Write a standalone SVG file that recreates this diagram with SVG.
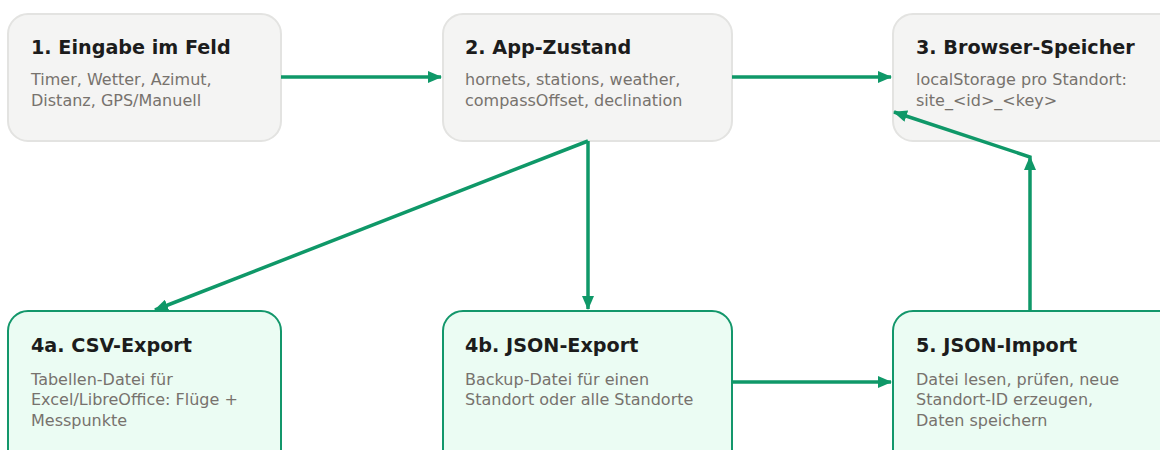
<svg xmlns="http://www.w3.org/2000/svg" width="1160" height="450" viewBox="0 0 1160 450">
<style>
.box{fill:#f4f4f3;stroke:#e3e3e1;stroke-width:2}
.out{fill:#ebfcf3;stroke:#13976b;stroke-width:2}
.t{font-family:"DejaVu Sans",sans-serif;font-weight:bold;font-size:19.2px;fill:#1c1c1c}
.b{font-family:"DejaVu Sans",sans-serif;font-size:16px;fill:#77726d}
.c{fill:none;stroke:#0f9868;stroke-width:3.5}
</style>
<defs>
<marker id="ah" markerUnits="userSpaceOnUse" markerWidth="14" markerHeight="12" refX="13" refY="6" orient="auto">
<path d="M0,0 L14,6 L0,12 z" fill="#0f9868"/>
</marker>
<marker id="ahUp" markerUnits="userSpaceOnUse" markerWidth="14" markerHeight="12" refX="13" refY="6" orient="-90">
<path d="M0,0 L14,6 L0,12 z" fill="#0f9868"/>
</marker>
</defs>
<g id="n1">
<rect class="box" x="8" y="14" width="273" height="127" rx="20"/>
<text class="t" x="31" y="54">1. Eingabe im Feld</text>
<text class="b" x="31" y="85">Timer, Wetter, Azimut,</text>
<text class="b" x="31" y="106">Distanz, GPS/Manuell</text>
</g>
<g id="n2">
<rect class="box" x="443" y="14" width="289" height="127" rx="20"/>
<text class="t" x="465" y="54">2. App-Zustand</text>
<text class="b" x="465" y="85">hornets, stations, weather,</text>
<text class="b" x="465" y="106">compassOffset, declination</text>
</g>
<g id="n3">
<rect class="box" x="893" y="14" width="290" height="127" rx="20"/>
<text class="t" x="916" y="54">3. Browser-Speicher</text>
<text class="b" x="916" y="85">localStorage pro Standort:</text>
<text class="b" x="916" y="106">site_&lt;id&gt;_&lt;key&gt;</text>
</g>
<g id="n4a">
<rect class="out" x="8" y="311" width="273" height="160" rx="20"/>
<text class="t" x="31" y="352">4a. CSV-Export</text>
<text class="b" x="31" y="385">Tabellen-Datei für</text>
<text class="b" x="31" y="405">Excel/LibreOffice: Flüge +</text>
<text class="b" x="31" y="426">Messpunkte</text>
</g>
<g id="n4b">
<rect class="out" x="443" y="311" width="289" height="160" rx="20"/>
<text class="t" x="465" y="352">4b. JSON-Export</text>
<text class="b" x="465" y="385">Backup-Datei für einen</text>
<text class="b" x="465" y="405">Standort oder alle Standorte</text>
</g>
<g id="n5">
<rect class="out" x="893" y="311" width="290" height="160" rx="20"/>
<text class="t" x="916" y="352">5. JSON-Import</text>
<text class="b" x="916" y="385">Datei lesen, prüfen, neue</text>
<text class="b" x="916" y="405">Standort-ID erzeugen,</text>
<text class="b" x="916" y="426">Daten speichern</text>
</g>
<g id="connectors">
<path class="c" d="M281,77 L441,77" marker-end="url(#ah)"/>
<path class="c" d="M732,77 L891,77" marker-end="url(#ah)"/>
<path class="c" d="M588,141 L155,310" marker-end="url(#ah)"/>
<path class="c" d="M588,141 L588,309" marker-end="url(#ah)"/>
<path class="c" d="M732,382 L891,382" marker-end="url(#ah)"/>
<path class="c" d="M1030,311 L1030,157 L894,112" marker-mid="url(#ahUp)" marker-end="url(#ah)"/>
</g>
</svg>
